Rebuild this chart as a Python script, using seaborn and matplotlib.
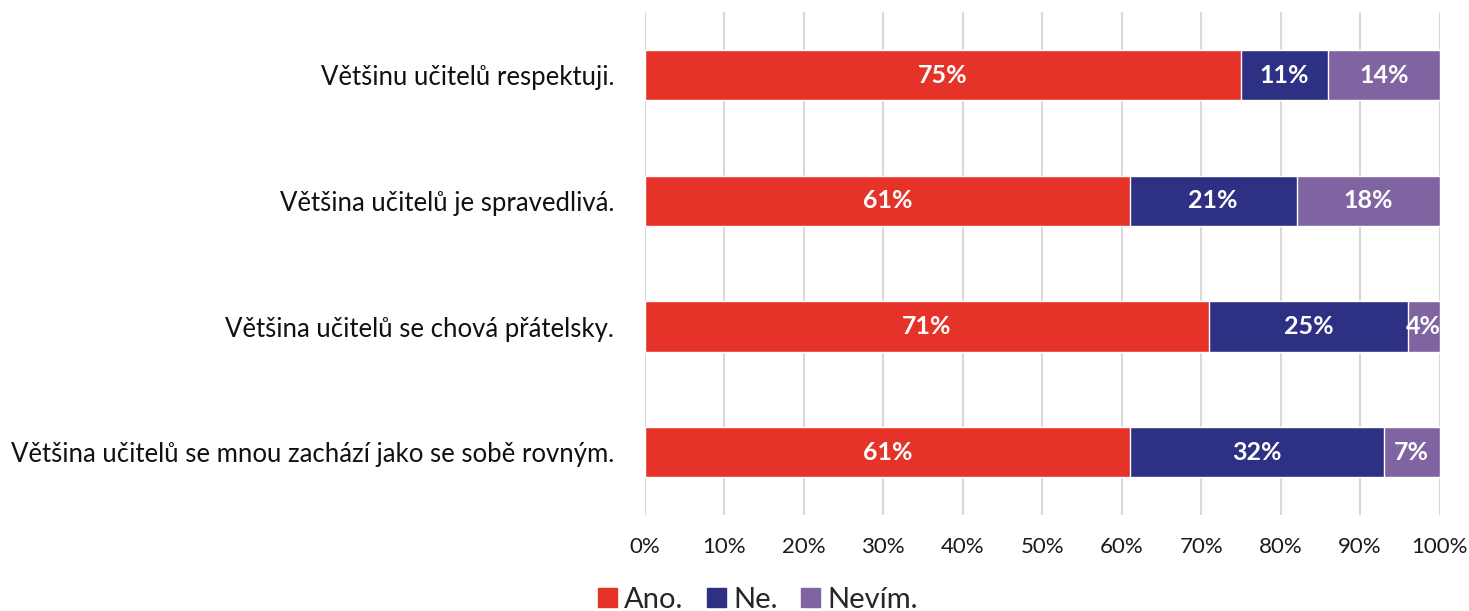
import matplotlib.pyplot as plt
import numpy as np
import pandas as pd
import seaborn as sns

questions = ['Většinu učitelů respektuji.',
             'Většina učitelů je spravedlivá.',
             'Většina učitelů se chová přátelsky.',
             'Většina učitelů se mnou zachází jako se sobě rovným.']
ano = [75, 61, 71, 61]
ne = [11, 21, 25, 32]
nevim = [14, 18, 4, 7]

series = ['Ano.', 'Ne.', 'Nevím.']
colors = ['#E5332A', '#2E3083', '#8064A2']

sns.set_style('white')
plt.rcParams['font.family'] = ['Lato', 'DejaVu Sans']

df = pd.DataFrame({'q': questions, 'Ano.': ano, 'Ne.': ne, 'Nevím.': nevim})
df['c1'] = df['Ano.']
df['c2'] = df['Ano.'] + df['Ne.']
df['c3'] = df['c2'] + df['Nevím.']

fig = plt.figure(figsize=(14.69, 6.11), dpi=100)
ax = fig.add_axes([0.439, 0.157, 0.541, 0.823])

# stacked by overdrawing cumulative totals, widest first
for col, color in zip(['c3', 'c2', 'c1'], colors[::-1]):
    sns.barplot(data=df, x=col, y='q', color=color, width=0.4,
                orient='h', ax=ax, saturation=1, zorder=3)

# segment labels
for i, row in df.iterrows():
    left = 0
    for s in series:
        v = row[s]
        ax.text(left + v / 2, i, f'{v}%', ha='center', va='center',
                color='white', fontsize=18, fontweight='bold', zorder=5)
        left += v

ax.set_xlim(0, 100)
ax.set_ylim(3.5, -0.5)
ax.set_xticks(np.arange(0, 101, 10))
ax.set_xticklabels([f'{t}%' for t in range(0, 101, 10)], fontsize=16, color='#1a1a1a')
ax.tick_params(axis='y', labelsize=18.5, labelcolor='#111111', length=0, pad=22)
ax.tick_params(axis='x', length=0, pad=16)
ax.set_xlabel('')
ax.set_ylabel('')
ax.grid(axis='x', color='#D9D9D9', linewidth=1.5, zorder=0)
ax.set_axisbelow(True)
sns.despine(ax=ax, left=True, bottom=True)

handles = [plt.Rectangle((0, 0), 1, 1, color=c) for c in colors]
fig.legend(handles, series, loc='lower center', bbox_to_anchor=(0.516, -0.046),
           ncol=3, frameon=False, fontsize=21, handlelength=0.65, handleheight=0.65,
           handletextpad=0.25, columnspacing=0.8)

fig.savefig('out.png', dpi=100)
